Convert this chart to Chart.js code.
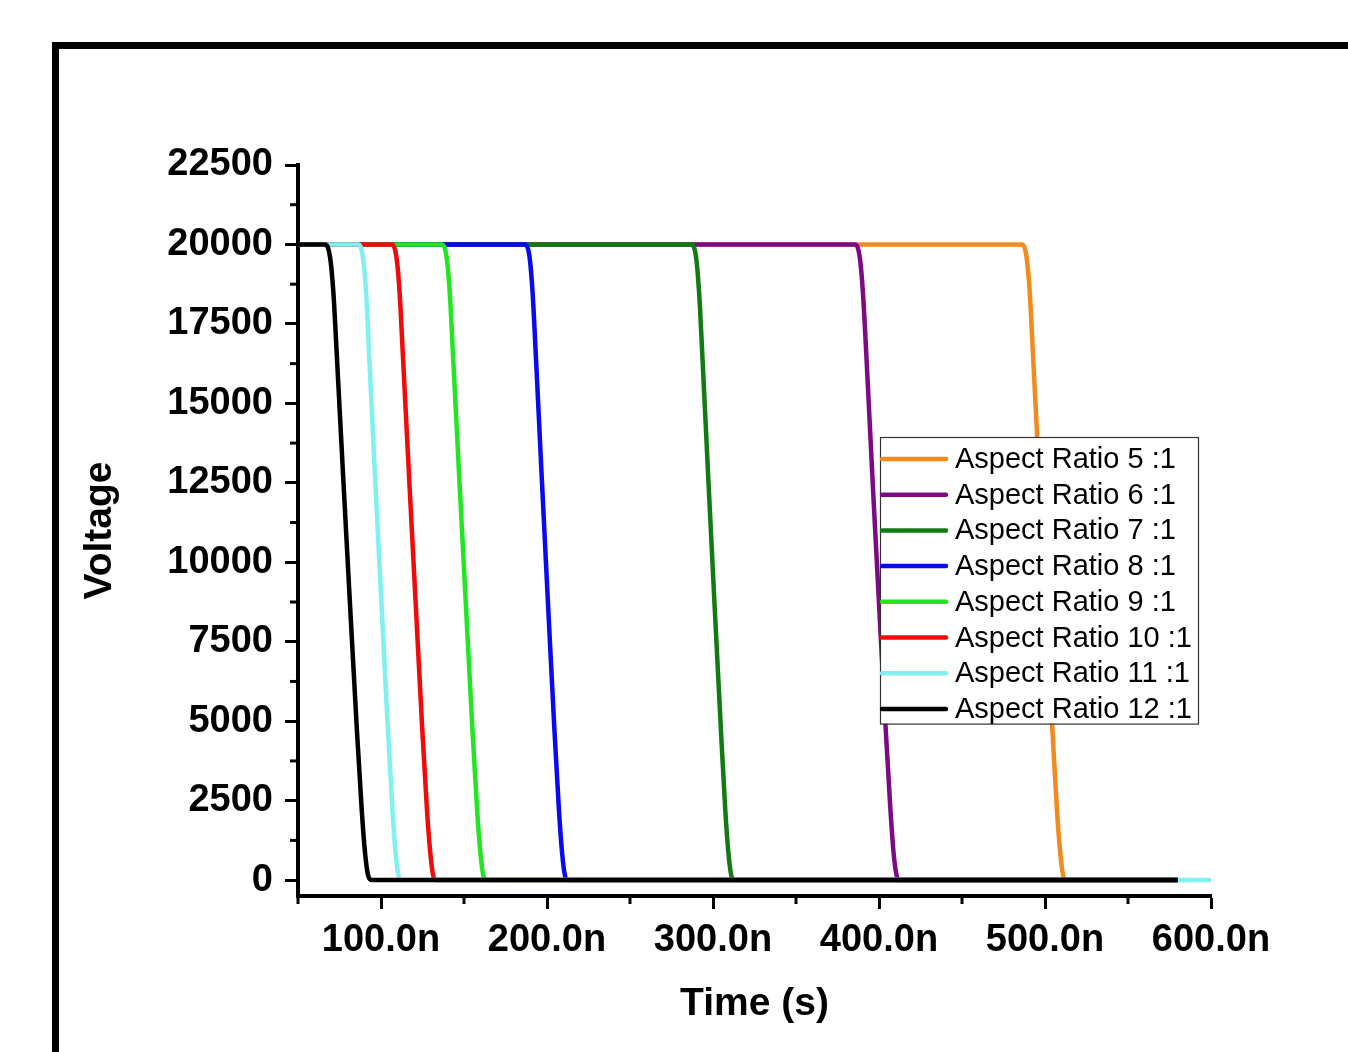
<!DOCTYPE html>
<html>
<head>
<meta charset="utf-8">
<script src="https://cdn.jsdelivr.net/npm/chart.js@4.4.0/dist/chart.umd.min.js"></script>
<style>
  html, body { margin: 0; padding: 0; background: #fff; overflow: hidden; width: 1348px; height: 1052px; }
  #frame { position: absolute; left: 52px; top: 42px; width: 1400px; height: 1100px; border: 7px solid #000; box-sizing: border-box; }
  #wrap { position: absolute; left: 0; top: 0; width: 1348px; height: 1052px; }
</style>
</head>
<body>
<div id="frame"></div>
<div id="wrap"><canvas id="chart" width="1348" height="1052"></canvas></div>
<script>
// voltage levels the curves pass through, and the time (ns) each curve hits them
const voltage = [20000, 20000, 19600, 18500, 16600, 12600, 8700, 4800, 2200, 850, 130, 0, 0];

const tAR5  = [50, 486.0, 488.9, 490.8, 492.7, 496.6, 500.4, 504.4, 507.2, 509.2, 511.0, 513.0, 580];
const tAR6  = [50, 385.5, 388.4, 390.3, 392.3, 396.1, 400.0, 404.0, 406.9, 408.8, 410.7, 412.7, 580];
const tAR7  = [50, 287.0, 289.8, 291.6, 293.5, 297.2, 300.9, 304.7, 307.4, 309.3, 311.1, 313.0, 580];
const tAR8  = [50, 186.7, 189.5, 191.3, 193.2, 196.9, 200.6, 204.4, 207.2, 209.1, 210.9, 212.8, 580];
const tAR9  = [50, 136.6, 139.5, 141.4, 143.3, 147.2, 151.1, 155.0, 157.9, 159.9, 161.7, 163.7, 580];
const tAR10 = [50, 106.4, 109.3, 111.2, 113.1, 117.0, 120.9, 124.8, 127.7, 129.7, 131.5, 133.5, 580];
const tAR11 = [50, 86.3, 89.1, 91.0, 92.8, 96.5, 100.3, 104.1, 106.9, 108.8, 110.6, 112.5, 600];
const tAR12 = [50, 66.3, 69.3, 71.3, 73.3, 77.3, 81.3, 85.4, 88.4, 90.4, 92.3, 94.4, 580];

const seriesLabels = ["Aspect Ratio 5 :1", "Aspect Ratio 6 :1", "Aspect Ratio 7 :1", "Aspect Ratio 8 :1",
  "Aspect Ratio 9 :1", "Aspect Ratio 10 :1", "Aspect Ratio 11 :1", "Aspect Ratio 12 :1"];
const seriesTimes = [tAR5, tAR6, tAR7, tAR8, tAR9, tAR10, tAR11, tAR12];
const seriesColors = ["#f28a1e", "#7d0a85", "#127a12", "#0a0af0", "#22e622", "#f00a0a", "#80f0f0", "#000000"];

const xMajor = [100, 200, 300, 400, 500, 600];
const xMinor = [50, 150, 250, 350, 450, 550];
const yMajor = [0, 2500, 5000, 7500, 10000, 12500, 15000, 17500, 20000, 22500];
const yMinor = [1250, 3750, 6250, 8750, 11250, 13750, 16250, 18750, 21250];

const FONT = 'Arial, "Liberation Sans", sans-serif';

const minorTicks = {
  id: 'minorTicks',
  afterDraw(chart) {
    const { ctx, scales: { x, y } } = chart;
    ctx.save();
    ctx.strokeStyle = '#000';
    ctx.lineWidth = 3;
    yMinor.forEach(v => {
      const py = y.getPixelForValue(v);
      ctx.beginPath(); ctx.moveTo(y.right - 8, py); ctx.lineTo(y.right, py); ctx.stroke();
    });
    xMinor.forEach(v => {
      const px = x.getPixelForValue(v);
      ctx.beginPath(); ctx.moveTo(px, x.top); ctx.lineTo(px, x.top + 8); ctx.stroke();
    });
    ctx.restore();
  }
};

const boxLegend = {
  id: 'boxLegend',
  afterDraw(chart) {
    const ctx = chart.ctx;
    const left = 880, top = 437, w = 318, rowH = 35.7;
    const h = rowH * chart.data.datasets.length + 1;
    ctx.save();
    ctx.fillStyle = '#fff';
    ctx.fillRect(left, top, w, h);
    ctx.strokeStyle = '#333';
    ctx.lineWidth = 1.2;
    ctx.strokeRect(left + 0.5, top + 0.5, w, h);
    chart.data.datasets.forEach((ds, i) => {
      const cy = top + 22 + i * rowH;
      ctx.strokeStyle = ds.borderColor;
      ctx.lineWidth = 4.5;
      ctx.lineCap = 'round';
      ctx.beginPath(); ctx.moveTo(left + 2, cy); ctx.lineTo(left + 66, cy); ctx.stroke();
      ctx.fillStyle = '#000';
      ctx.font = '29px ' + FONT;
      ctx.textBaseline = 'middle';
      ctx.fillText(ds.label, left + 75, cy + 1);
    });
    ctx.restore();
  }
};

const datasets = seriesLabels.map((label, i) => ({
  label,
  data: seriesTimes[i].map((t, k) => ({ x: t, y: voltage[k] })),
  borderColor: seriesColors[i],
  backgroundColor: seriesColors[i],
  borderWidth: 4.5,
  pointRadius: 0,
  fill: false,
  cubicInterpolationMode: 'monotone',
  order: seriesLabels.length - 1 - i
}));

new Chart(document.getElementById('chart'), {
  type: 'line',
  data: { datasets },
  options: {
    responsive: false,
    animation: false,
    layout: { padding: { left: 0, top: 165, right: 137, bottom: 0 } },
    plugins: { legend: { display: false }, tooltip: { enabled: false } },
    scales: {
      x: {
        type: 'linear',
        min: 50, max: 600,
        afterFit: s => { s.height = 156; },
        afterBuildTicks: s => { s.ticks = xMajor.map(v => ({ value: v })); },
        border: { display: true, color: '#000', width: 4 },
        grid: { drawOnChartArea: false, drawTicks: true, tickLength: 13, tickColor: '#000', tickWidth: 3 },
        ticks: {
          color: '#000', padding: 9, maxRotation: 0, autoSkip: false,
          font: { family: FONT, size: 38, weight: 'bold' },
          callback: v => v.toFixed(1) + 'n'
        },
        title: {
          display: true, text: 'Time (s)', color: '#000',
          font: { family: FONT, size: 39, weight: 'bold' },
          padding: { top: 0, bottom: 24 }
        }
      },
      y: {
        type: 'linear',
        min: -500, max: 22500,
        afterFit: s => { s.width = 298; },
        afterBuildTicks: s => { s.ticks = yMajor.map(v => ({ value: v })); },
        border: { display: true, color: '#000', width: 4 },
        grid: { drawOnChartArea: false, drawTicks: true, tickLength: 13, tickColor: '#000', tickWidth: 3 },
        ticks: {
          color: '#000', padding: 12, autoSkip: false,
          font: { family: FONT, size: 38, weight: 'bold' },
          callback: v => String(v)
        },
        title: {
          display: true, text: 'Voltage', color: '#000',
          font: { family: FONT, size: 39, weight: 'bold' },
          padding: { top: 77, bottom: 0 }
        }
      }
    }
  },
  plugins: [minorTicks, boxLegend]
});
</script>
</body>
</html>
